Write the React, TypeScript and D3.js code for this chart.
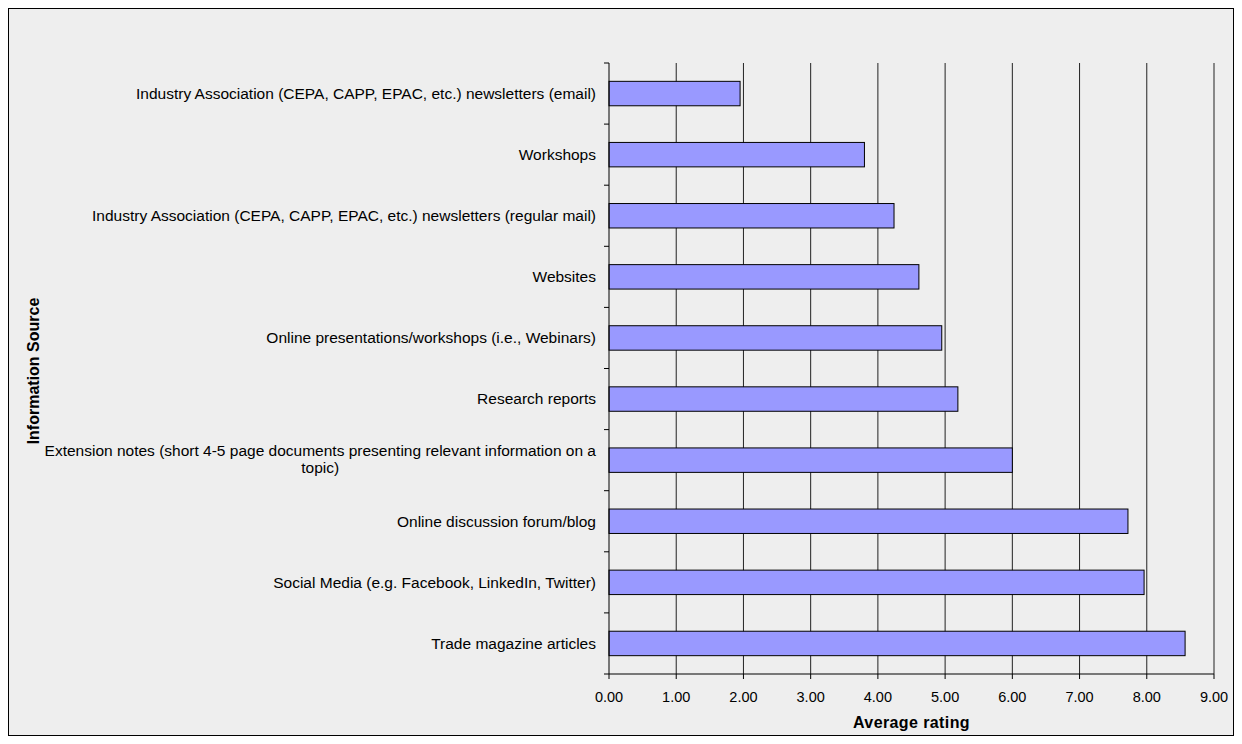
import React, { useEffect, useRef } from 'react';
import * as d3 from 'd3';

// categories top to bottom, '\n' marks a line break in the label
const sources = [
  'Industry Association (CEPA, CAPP, EPAC, etc.) newsletters (email)',
  'Workshops',
  'Industry Association (CEPA, CAPP, EPAC, etc.) newsletters (regular mail)',
  'Websites',
  'Online presentations/workshops (i.e., Webinars)',
  'Research reports',
  'Extension notes (short 4-5 page documents presenting relevant information on a\ntopic)',
  'Online discussion forum/blog',
  'Social Media (e.g. Facebook, LinkedIn, Twitter)',
  'Trade magazine articles',
];
const ratings = [1.95, 3.8, 4.24, 4.61, 4.95, 5.19, 6.0, 7.72, 7.96, 8.57];
const xTicks = [0, 1, 2, 3, 4, 5, 6, 7, 8, 9];

const W = 1226;
const H = 728;
const FONT = '"Liberation Sans", Arial, sans-serif';

const App = () => {
  const svgRef = useRef<SVGSVGElement>(null);

  useEffect(() => {
    const svg = d3.select(svgRef.current);
    svg.selectAll('*').remove();

    const m = { left: 601, right: 1206, top: 55, bottom: 666 };

    const x = d3.scaleLinear().domain([0, 9]).range([m.left, m.right]);
    const y = d3.scaleBand().domain(sources).range([m.top, m.bottom]).paddingInner(0.6).paddingOuter(0.3);
    const yb = d3.scaleBand().domain(sources).range([m.top, m.bottom]); // full bands for ticks

    // frame
    svg.append('rect')
      .attr('x', 0.5).attr('y', 0.5)
      .attr('width', W - 1).attr('height', H - 1)
      .attr('fill', '#eeeeee').attr('stroke', '#000');

    // vertical gridlines
    svg.append('g')
      .selectAll('line')
      .data(xTicks.slice(1))
      .join('line')
      .attr('x1', d => x(d)).attr('x2', d => x(d))
      .attr('y1', m.top).attr('y2', m.bottom)
      .attr('stroke', '#222').attr('stroke-width', 1);

    // bars
    svg.append('g')
      .selectAll('rect')
      .data(ratings)
      .join('rect')
      .attr('x', x(0))
      .attr('y', (d, i) => y(sources[i])!)
      .attr('width', d => x(d) - x(0))
      .attr('height', y.bandwidth())
      .attr('fill', '#9999ff')
      .attr('stroke', '#000')
      .attr('stroke-width', 1);

    // y axis line + ticks at band edges
    svg.append('line')
      .attr('x1', m.left).attr('x2', m.left)
      .attr('y1', m.top).attr('y2', m.bottom)
      .attr('stroke', '#000');
    const edges = sources.map(s => yb(s)!).concat([m.bottom]);
    svg.append('g')
      .selectAll('line')
      .data(edges)
      .join('line')
      .attr('x1', m.left - 5).attr('x2', m.left)
      .attr('y1', d => d).attr('y2', d => d)
      .attr('stroke', '#000');

    // x axis
    svg.append('line')
      .attr('x1', m.left).attr('x2', m.right)
      .attr('y1', m.bottom).attr('y2', m.bottom)
      .attr('stroke', '#000');
    svg.append('g')
      .selectAll('line')
      .data(xTicks)
      .join('line')
      .attr('x1', d => x(d)).attr('x2', d => x(d))
      .attr('y1', m.bottom).attr('y2', m.bottom + 5)
      .attr('stroke', '#000');
    svg.append('g')
      .selectAll('text')
      .data(xTicks)
      .join('text')
      .attr('x', d => x(d))
      .attr('y', m.bottom + 28)
      .attr('text-anchor', 'middle')
      .attr('font-family', FONT)
      .attr('font-size', 14.5)
      .text(d => d3.format('.2f')(d));

    // category labels
    const labelRight = m.left - 13;
    const lineH = 17;
    sources.forEach(s => {
      const lines = s.split('\n');
      const cy = yb(s)! + yb.bandwidth() / 2;
      const t = svg.append('text')
        .attr('font-family', FONT)
        .attr('font-size', 15.5)
        .attr('fill', '#000')
        .attr('text-anchor', 'middle');
      const spans = lines.map((ln, i) =>
        t.append('tspan')
          .attr('y', cy - ((lines.length - 1) * lineH) / 2 + i * lineH - (lines.length > 1 ? 1 : 0))
          .attr('dy', '0.35em')
          .text(ln)
      );
      const widest = d3.max(spans, sp => (sp.node() as SVGTSpanElement).getComputedTextLength()) || 0;
      spans.forEach(sp => sp.attr('x', labelRight - widest / 2));
    });

    // axis titles
    svg.append('text')
      .attr('x', (m.left + m.right) / 2)
      .attr('y', 720)
      .attr('text-anchor', 'middle')
      .attr('font-family', FONT)
      .attr('font-size', 16)
      .attr('font-weight', 'bold')
      .attr('letter-spacing', 0.4)
      .text('Average rating');

    svg.append('text')
      .attr('transform', `translate(31, 363) rotate(-90)`)
      .attr('text-anchor', 'middle')
      .attr('font-family', FONT)
      .attr('font-size', 16)
      .attr('font-weight', 'bold')
      .text('Information Source');
  }, []);

  return <svg ref={svgRef} width={W} height={H} style={{ display: 'block' }}></svg>;
};

export default App;
